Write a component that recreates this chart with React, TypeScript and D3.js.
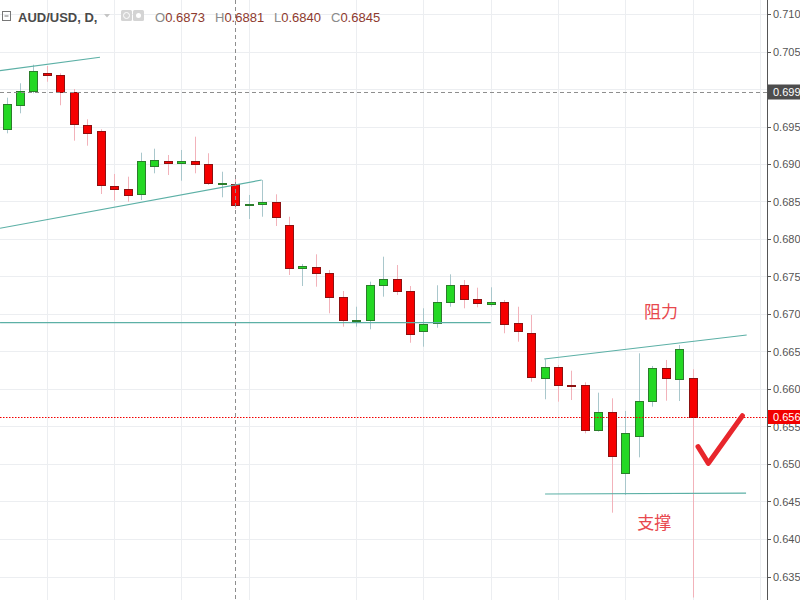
import React from "react";
import * as d3 from "d3";

// ---- data (AUD/USD daily) ----
const opens = [0.69467,0.69783,0.69969,0.70213,0.70191,0.69964,0.69516,0.6944,0.68711,0.68671,0.686,0.68969,0.69044,0.69013,0.69036,0.69,0.68747,0.6873,0.68463,0.68463,0.68489,0.68187,0.67613,0.67631,0.67551,0.67227,0.6692,0.6692,0.67391,0.67471,0.67307,0.66777,0.66876,0.67156,0.67387,0.67204,0.67129,0.6716,0.66876,0.66751,0.66147,0.66297,0.6605,0.66057,0.65453,0.65697,0.64884,0.65369,0.6584,0.66276,0.66133,0.66151];
const highs = [0.69884,0.70076,0.70324,0.70307,0.70209,0.7,0.69596,0.69463,0.68867,0.68831,0.69151,0.69204,0.6912,0.69187,0.69364,0.69143,0.68897,0.6881,0.68587,0.68787,0.68596,0.68297,0.67667,0.67796,0.67587,0.67307,0.67097,0.67431,0.67764,0.67653,0.67373,0.67076,0.67383,0.67529,0.67453,0.67351,0.67356,0.67187,0.67097,0.66987,0.66396,0.6632,0.66244,0.66089,0.65951,0.65876,0.65707,0.66476,0.66307,0.66387,0.66587,0.66263];
const lows = [0.69409,0.69676,0.69943,0.70097,0.69783,0.69311,0.69244,0.686,0.68511,0.68497,0.6852,0.68876,0.68853,0.68777,0.68876,0.6872,0.68556,0.684,0.68267,0.68297,0.68173,0.6752,0.67373,0.67364,0.67009,0.66831,0.66831,0.66796,0.67231,0.67253,0.66617,0.66564,0.66817,0.67097,0.67076,0.67089,0.67097,0.66743,0.66631,0.66097,0.65863,0.65831,0.65853,0.65409,0.65431,0.64351,0.64587,0.65089,0.65764,0.65844,0.6584,0.6322];
const closes = [0.69796,0.69969,0.70236,0.70187,0.69956,0.69529,0.69409,0.68716,0.68671,0.68587,0.69044,0.69053,0.69017,0.69044,0.68996,0.68743,0.68747,0.6845,0.68463,0.68493,0.68297,0.67617,0.67643,0.67543,0.67223,0.6692,0.6692,0.67387,0.67471,0.67311,0.66733,0.66867,0.6716,0.67387,0.67196,0.67151,0.6716,0.66863,0.66773,0.66164,0.66289,0.66053,0.66048,0.65453,0.65697,0.65107,0.65409,0.6584,0.66276,0.66147,0.66529,0.6562];

const priceTicks = [0.71,0.705,0.7,0.695,0.69,0.685,0.68,0.675,0.67,0.665,0.66,0.655,0.65,0.645,0.64,0.635];
const gridIndices = [3,8,13,18,26,31,36,41,46,51,56];

// trend lines: [startIndex, startPrice, endIndex, endPrice]
const trendLines = [
  [-0.48, 0.70244, 6.95, 0.70423],
  [-0.48, 0.68143, 18.97, 0.68787],
  [-0.48, 0.66884, 36.0, 0.66884],
  [39.98, 0.664, 55.03, 0.6672],
  [40.04, 0.646, 54.98, 0.64613],
];
const labels = [
  { text: "阻力", i: 48.66, p: 0.67047 },
  { text: "支撑", i: 48.16, p: 0.64227 },
];
const checkIdx = [51.41, 52.18, 54.71];
const checkPrice = [0.65231, 0.65009, 0.65644];

const crossIndex = 17;
const crossPrice = 0.6996;
const lastPrice = 0.6562;
const header = { symbol: "AUD/USD, D,", o: "0.6873", h: "0.6881", l: "0.6840", c: "0.6845" };

export default function App() {
  const W = 800, H = 600, axisX = 767;
  const x = d3.scaleLinear().domain([0, 51]).range([6.5, 692.5]);
  const y = d3.scaleLinear().domain([0.635, 0.71]).range([576.5, 14]);
  const fmt = d3.format(".4f");
  const line = d3.line<[number, number]>().x(d => x(d[0])).y(d => y(d[1]));
  const checkPts: [number, number][] = checkIdx.map((v, k) => [v, checkPrice[k]]);

  const font = "'Liberation Sans', Arial, sans-serif";
  const green = "#24d824", greenB = "#2b7d2b", red = "#f60000", redB = "#8c1111";
  const greenW = "#a9c7cc", redW = "#f2b2ba";

  return (
    <svg width={W} height={H} style={{ position: "absolute", left: 0, top: 0, background: "#fff" }}>
      <defs>
        <clipPath id="plot"><rect x={0} y={0} width={axisX} height={H} /></clipPath>
      </defs>
      <rect x={0} y={0} width={W} height={H} fill="#fff" />
      <g clipPath="url(#plot)">
        {priceTicks.map(t => (
          <line key={"h" + t} x1={0} x2={axisX} y1={Math.round(y(t)) + 0.5} y2={Math.round(y(t)) + 0.5} stroke="#eceef1" />
        ))}
        {gridIndices.map(g => (
          <line key={"v" + g} x1={Math.round(x(g)) + 0.5} x2={Math.round(x(g)) + 0.5} y1={0} y2={H} stroke="#eceef1" />
        ))}
        {opens.map((o, i) => {
          const c = closes[i];
          const up = c >= o;
          const cx = Math.round(x(i));
          const top = Math.round(y(Math.max(o, c)));
          const bot = Math.round(y(Math.min(o, c)));
          const h = Math.max(1, bot - top);
          return (
            <g key={i}>
              <line x1={cx + 0.5} x2={cx + 0.5} y1={y(highs[i])} y2={y(lows[i])} stroke={up ? greenW : redW} />
              <rect x={cx - 3.5} y={top + 0.5} width={8} height={h} fill={up ? green : red} stroke={up ? greenB : redB} />
            </g>
          );
        })}
        {trendLines.map((t, k) => (
          <line key={"t" + k} x1={x(t[0])} y1={y(t[1])} x2={x(t[2])} y2={y(t[3])} stroke="#5cb0a6" strokeWidth={1.2} />
        ))}
        <line x1={0} x2={axisX} y1={Math.round(y(lastPrice)) + 0.5} y2={Math.round(y(lastPrice)) + 0.5} stroke="#f20000" strokeDasharray="1.5,1.5" />
        <line x1={0} x2={axisX} y1={Math.round(y(crossPrice)) + 0.5} y2={Math.round(y(crossPrice)) + 0.5} stroke="#8e8e8e" strokeDasharray="4,3" />
        <line x1={Math.round(x(crossIndex)) + 0.5} x2={Math.round(x(crossIndex)) + 0.5} y1={0} y2={H} stroke="#8e8e8e" strokeDasharray="4,3" />
        {labels.map(l => (
          <text key={l.text} x={x(l.i)} y={y(l.p)} textAnchor="middle" dominantBaseline="central" fontSize={17} fill="#e8484e" fontFamily="'Noto Sans CJK SC', sans-serif">{l.text}</text>
        ))}
        <path d={line(checkPts) || ""} fill="none" stroke="#e8262c" strokeWidth={5} strokeLinecap="round" strokeLinejoin="round" />
      </g>

      {/* price axis */}
      <line x1={axisX + 0.5} x2={axisX + 0.5} y1={0} y2={H} stroke="#555" />
      {priceTicks.map(t => (
        <g key={"a" + t}>
          <line x1={axisX} x2={axisX + 4} y1={Math.round(y(t)) + 0.5} y2={Math.round(y(t)) + 0.5} stroke="#555" />
          <text x={773} y={y(t)} dominantBaseline="central" fontSize={11} fill="#555" fontFamily={font}>{fmt(t)}</text>
        </g>
      ))}
      <rect x={axisX + 1} y={y(crossPrice) - 7.5} width={W - axisX} height={15} fill="#4d4d4d" />
      <text x={773} y={y(crossPrice)} dominantBaseline="central" fontSize={11} fill="#fff" fontFamily={font}>{fmt(crossPrice)}</text>
      <rect x={axisX + 1} y={y(lastPrice) - 7.5} width={W - axisX} height={14} fill="#f20000" />
      <text x={773} y={y(lastPrice) - 0.5} dominantBaseline="central" fontSize={11} fill="#fff" fontFamily={font}>{fmt(lastPrice)}</text>

      {/* header */}
      <g fontFamily={font}>
        <rect x={2.5} y={11.5} width={8} height={9} fill="none" stroke="#777" />
        <line x1={4.5} x2={8.5} y1={16} y2={16} stroke="#777" />
        <text x={18} y={22} fontSize={13} fontWeight={600} fill="#4a4a4a">{header.symbol}</text>
        <path d="M104,14 L110,14 L107,17.5 Z" fill="#c4c4c4" />
        <rect x={121} y={10} width={11} height={11} rx={1.5} fill="#d4d4d4" />
        <circle cx={126.5} cy={15.5} r={3} fill="none" stroke="#fff" />
        <rect x={133} y={10} width={11} height={11} rx={1.5} fill="#d4d4d4" />
        <circle cx={138.5} cy={15.5} r={2.5} fill="#fff" />
        <text x={155} y={22} fontSize={13} fill="#8a8a8a">O<tspan fill="#8e3a2e">{header.o}</tspan></text>
        <text x={215} y={22} fontSize={13} fill="#8a8a8a">H<tspan fill="#8e3a2e">{header.h}</tspan></text>
        <text x={274} y={22} fontSize={13} fill="#8a8a8a">L<tspan fill="#8e3a2e">{header.l}</tspan></text>
        <text x={331} y={22} fontSize={13} fill="#8a8a8a">C<tspan fill="#8e3a2e">{header.c}</tspan></text>
      </g>
    </svg>
  );
}
